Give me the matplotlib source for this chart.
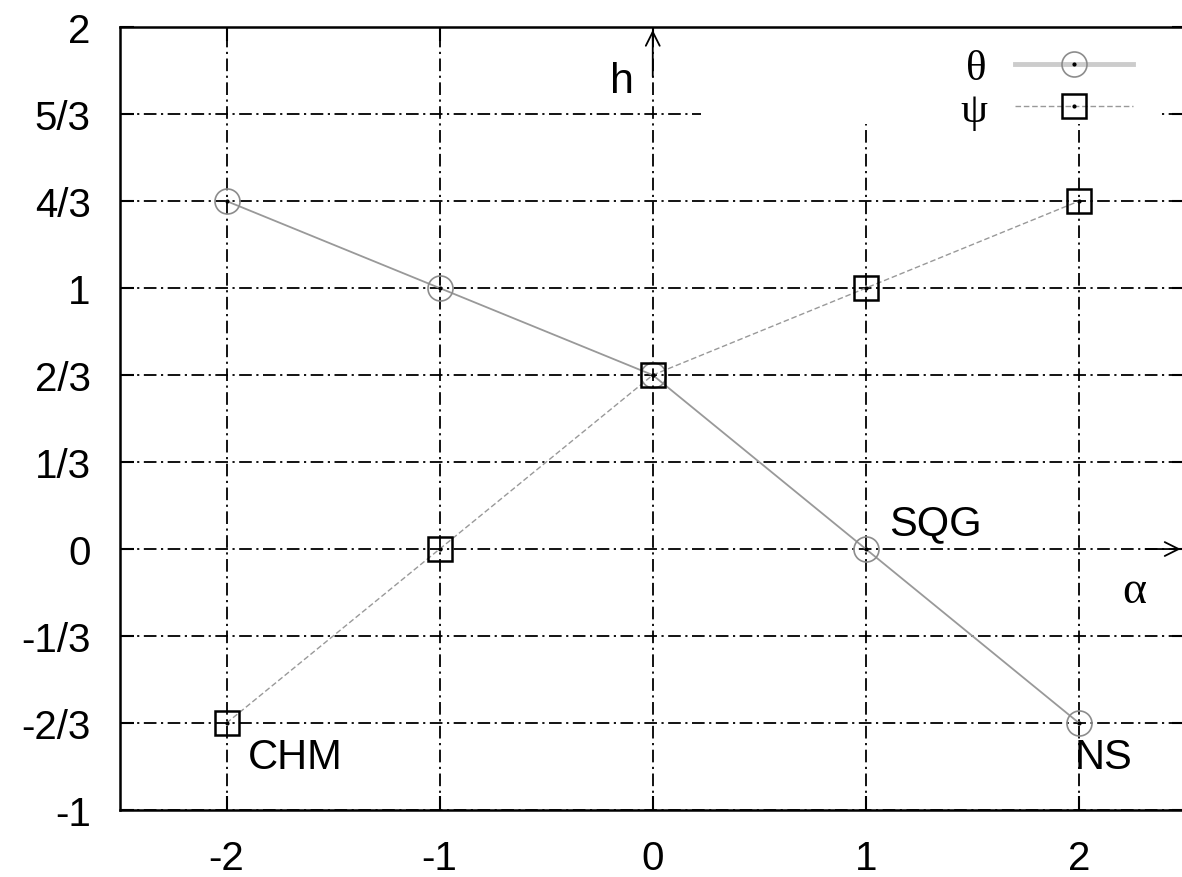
import matplotlib.pyplot as plt
from matplotlib.lines import Line2D
from matplotlib.patches import Rectangle
from matplotlib.legend_handler import HandlerTuple

plt.rcParams['font.family'] = ['Liberation Sans', 'DejaVu Sans']
plt.rcParams['axes.unicode_minus'] = False

alpha = [-2, -1, 0, 1, 2]
theta = [4/3, 1, 2/3, 0, -2/3]
psi = [-2/3, 0, 2/3, 1, 4/3]

yticks = [-1, -2/3, -1/3, 0, 1/3, 2/3, 1, 4/3, 5/3, 2]
ytick_labels = ['-1', '-2/3', '-1/3', '0', '1/3', '2/3', '1', '4/3', '5/3', '2']

fig = plt.figure(figsize=(11.82, 8.78), dpi=100)
ax = fig.add_axes([0.1015, 0.0763, 0.9015, 0.8917])
ax.set_xlim(-2.5, 2.5)
ax.set_ylim(-1, 2)

ax.set_xticks(alpha)
ax.set_yticks(yticks)
ax.set_yticklabels(ytick_labels)
ax.tick_params(direction='in', length=10, width=1.5, labelsize=29,
               top=True, right=True, pad=21)
for s in ax.spines.values():
    s.set_linewidth(1.8)

# gnuplot-like dash-dot grid
grid_ls = (0, (7, 2.5, 1.2, 2.5))
ax.grid(True, color='black', lw=1.3, linestyle=grid_ls, zorder=0)
ax.set_axisbelow(True)

# key area is blanked out
ax.add_patch(Rectangle((0.545, 0.876), 0.432, 0.13, transform=ax.transAxes,
                       facecolor='white', edgecolor='none', zorder=1, clip_on=False))

# zero axes with arrow heads
ax.annotate('', xy=(0, 2), xytext=(0, 1.8),
            arrowprops=dict(arrowstyle='->', color='black', lw=1.3,
                            mutation_scale=25), zorder=3)
ax.annotate('', xy=(2.49, 0), xytext=(2.3, 0),
            arrowprops=dict(arrowstyle='->', color='black', lw=1.3,
                            mutation_scale=25), zorder=3)

ax.plot(alpha, theta, color='#999999', lw=1.3, zorder=4)
ax.plot(alpha, theta, ls='none', marker='o', ms=18, mfc='none', mec='#8c8c8c',
        mew=1.2, zorder=5)
ax.plot(alpha, psi, color='#999999', lw=1.0, ls=(0, (4, 2)), zorder=4)
ax.plot(alpha, psi, ls='none', marker='s', ms=17, mfc='none', mec='black',
        mew=1.8, zorder=5)
ax.plot(alpha + alpha, theta + psi, ls='none', marker='o', ms=2, color='black', zorder=6)

ax.text(-0.145, 1.795, 'h', fontsize=31, ha='center', va='center')
ax.text(2.26, -0.16, 'α', fontsize=33, ha='center', va='center',
        family=['Liberation Serif', 'DejaVu Serif'])
ax.text(1.11, 0.10, 'SQG', fontsize=30, ha='left', va='center')
ax.text(-1.90, -0.795, 'CHM', fontsize=30, ha='left', va='center')
ax.text(1.98, -0.795, 'NS', fontsize=30, ha='left', va='center')

dot = Line2D([], [], ls='none', marker='o', ms=2, color='black')
h_theta = (Line2D([], [], color='#cccccc', lw=3.5),
           Line2D([], [], ls='none', marker='o', ms=18, mfc='none', mec='#8c8c8c', mew=1.2),
           dot)
h_psi = (Line2D([], [], color='#999999', lw=1.0, ls=(0, (4, 2))),
         Line2D([], [], ls='none', marker='s', ms=17, mfc='none', mec='black', mew=1.8),
         dot)
leg = ax.legend([h_theta, h_psi], ['θ', 'ψ'],
                handler_map={tuple: HandlerTuple(ndivide=1)},
                loc='upper right', bbox_to_anchor=(0.951, 0.972), frameon=False,
                markerfirst=False, handlelength=2.75, handleheight=0.7,
                labelspacing=0.06, handletextpad=0.65, borderaxespad=0.0,
                borderpad=0.0,
                prop={'family': ['Liberation Serif', 'DejaVu Serif'], 'size': 31})
leg.set_zorder(7)

fig.savefig('out.png', dpi=100)
